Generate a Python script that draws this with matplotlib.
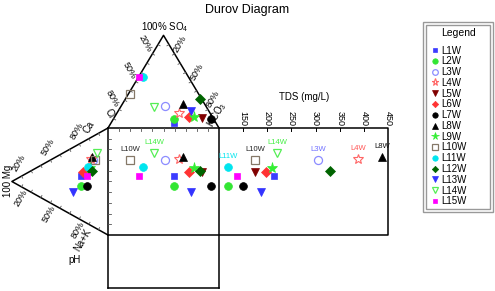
import matplotlib
matplotlib.use('Agg')
import matplotlib.pyplot as plt
import numpy as np
from matplotlib.lines import Line2D
from matplotlib.patches import Rectangle

plt.rcParams['font.family'] = ['Liberation Sans', 'DejaVu Sans']
plt.rcParams['mathtext.fontset'] = 'custom'
plt.rcParams['mathtext.rm'] = 'Liberation Sans'
plt.rcParams['mathtext.it'] = 'Liberation Sans:italic'

# ---------------- data ----------------
samples = ['L1W', 'L2W', 'L3W', 'L4W', 'L5W', 'L6W', 'L7W', 'L8W',
           'L9W', 'L10W', 'L11W', 'L12W', 'L13W', 'L14W', 'L15W']
# anions (% meq)
cl   = [37.8, 35.7, 36.7, 27.9, 9.9, 21.1, 2.3, 19.5, 16.6, 61.8, 41.0, 1.5, 16.0, 47.3, 44.5]
so4  = [5.4, 9.7, 23.8, 16.2, 10.8, 11.9, 9.7, 25.9, 11.9, 36.7, 55.1, 31.3, 18.4, 22.6, 55.1]
hco3 = [56.8, 54.6, 39.5, 55.9, 79.3, 67.0, 88.0, 54.6, 71.5, 1.5, 3.9, 67.2, 65.6, 30.1, 0.4]
# cations (% meq)
ca  = [41.1, 31.8, 62.3, 62.1, 49.0, 45.9, 34.9, 64.6, 53.3, 63.4, 53.2, 51.5, 22.0, 70.9, 44.2]
mg  = [28.1, 28.1, 15.6, 17.7, 19.8, 26.0, 21.8, 16.6, 18.7, 13.5, 20.8, 16.6, 36.4, 11.4, 21.8]
nak = [30.8, 40.1, 22.1, 20.2, 31.2, 28.1, 43.3, 18.8, 28.0, 23.1, 26.0, 31.9, 41.6, 17.7, 34.0]
# total dissolved solids (mg/L)
tds = [214, 119, 305, 388, 175, 197, 150, 438, 210, 175, 119, 330, 187, 220, 137]

tds_ticks = [150, 200, 250, 300, 350, 400, 450]
pct_ticks = ['20%', '50%', '80%']
square_labelled = ['L10W', 'L14W']
tds_labelled = ['L11W', 'L10W', 'L14W', 'L3W', 'L4W', 'L8W']

# ---------------- styles ----------------
style = {
    'L1W':  dict(marker='s', mfc='#3c3cff', mec='#3c3cff', ms=5.0),
    'L2W':  dict(marker='o', mfc='#33e633', mec='#33e633', ms=5.6),
    'L3W':  dict(marker='o', mfc='none', mec='#8c8cff', ms=5.8, mew=0.9),
    'L4W':  dict(marker='*', mfc='none', mec='#ff6666', ms=7.5, mew=0.8),
    'L5W':  dict(marker='v', mfc='#800000', mec='#800000', ms=5.6),
    'L6W':  dict(marker='D', mfc='#ff3333', mec='#ff3333', ms=4.6),
    'L7W':  dict(marker='o', mfc='black', mec='black', ms=5.6),
    'L8W':  dict(marker='^', mfc='black', mec='black', ms=5.6),
    'L9W':  dict(marker='*', mfc='#33ee33', mec='#33ee33', ms=8.0),
    'L10W': dict(marker='s', mfc='none', mec='#857868', ms=5.2, mew=0.9),
    'L11W': dict(marker='o', mfc='#00e5ee', mec='#00e5ee', ms=5.6),
    'L12W': dict(marker='D', mfc='#006400', mec='#006400', ms=4.6),
    'L13W': dict(marker='v', mfc='#3333ff', mec='#3333ff', ms=5.6),
    'L14W': dict(marker='v', mfc='none', mec='#55ee55', ms=6.2, mew=0.9),
    'L15W': dict(marker='s', mfc='#ff00ff', mec='#ff00ff', ms=5.0),
}
label_color = {'L11W': '#00e5ee', 'L10W': '#222222', 'L14W': '#44ee44',
               'L3W': '#7070ff', 'L4W': '#ff5555', 'L8W': '#111111'}

# ---------------- geometry ----------------
W, H = 495, 291
fig = plt.figure(figsize=(W / 100, H / 100), dpi=100)
ax = fig.add_axes([0, 0, 1, 1])
ax.set_xlim(-97.3, 348.65)
ax.set_ylim(-52.34, 219.63)
ax.axis('off')

h = np.sqrt(3) / 2 * 100
apex_top = np.array([50, 100 + h])
bl = np.array([0, 100])
br = np.array([100, 100])
apex_left = np.array([-h, 50])
ca_v = np.array([0, 100])
na_v = np.array([0, 0])

tds_min, tds_max = 100, 450
tds_x0, tds_x1 = 100, 252.3


def tds_x(t):
    return tds_x0 + (t - tds_min) / (tds_max - tds_min) * (tds_x1 - tds_x0)


lw = 1.1
k = 'black'
# triangles
ax.plot([bl[0], apex_top[0], br[0]], [bl[1], apex_top[1], br[1]], color=k, lw=lw)
ax.plot([ca_v[0], apex_left[0], na_v[0]], [ca_v[1], apex_left[1], na_v[1]], color=k, lw=lw)
# central square, TDS panel, pH panel
ax.plot([0, tds_x1, tds_x1, 0], [100, 100, 0, 0], color=k, lw=lw)
ax.plot([0, 0], [100, -49.5], color=k, lw=lw)
ax.plot([100, 100], [100, -49.5], color=k, lw=lw)
ax.plot([0, 100], [-49.5, -49.5], color=k, lw=lw)

# tick marks
tk = 2.2
tcol = '#555555'
for f in np.arange(0.1, 0.95, 0.1):
    p = apex_top + f * (bl - apex_top)
    n = np.array([0.866, -0.5])
    ax.plot([p[0], p[0] + tk * n[0]], [p[1], p[1] + tk * n[1]], color=tcol, lw=0.6)
    p = apex_top + f * (br - apex_top)
    n = np.array([-0.866, -0.5])
    ax.plot([p[0], p[0] + tk * n[0]], [p[1], p[1] + tk * n[1]], color=tcol, lw=0.6)
    p = apex_left + f * (ca_v - apex_left)
    n = np.array([0.5, -0.866])
    ax.plot([p[0], p[0] + tk * n[0]], [p[1], p[1] + tk * n[1]], color=tcol, lw=0.6)
    p = apex_left + f * (na_v - apex_left)
    n = np.array([0.5, 0.866])
    ax.plot([p[0], p[0] + tk * n[0]], [p[1], p[1] + tk * n[1]], color=tcol, lw=0.6)
    ax.plot([f * 100, f * 100], [100, 100 - tk * 1.2], color=tcol, lw=0.6)
    ax.plot([0, tk * 1.2], [f * 100, f * 100], color=tcol, lw=0.6)
for t in tds_ticks:
    if t < tds_max:
        ax.plot([tds_x(t), tds_x(t)], [100, 100 - 2.8], color=k, lw=0.7)
    ax.text(tds_x(t), 108.5, str(t), rotation=-90, ha='center', va='center', fontsize=6.5)

# axis labels
fs = 6.5
for i, f in enumerate([0.2, 0.5, 0.8]):
    p = apex_top + f * (bl - apex_top)
    ax.text(p[0] - 6, p[1] + 10, pct_ticks[i], rotation=-60, ha='center', va='center', fontsize=fs)
    p = apex_top + f * (br - apex_top)
    ax.text(p[0] + 5, p[1] + 9.5, pct_ticks[i], rotation=60, ha='center', va='center', fontsize=fs)
    p = apex_left + f * (ca_v - apex_left)
    ax.text(p[0] - 11, p[1] + 7, pct_ticks[i], rotation=60, ha='center', va='center', fontsize=fs)
    p = apex_left + f * (na_v - apex_left)
    ax.text(p[0] - 9.5, p[1] - 5, pct_ticks[i], rotation=60, ha='center', va='center', fontsize=fs)

ax.text(51.4, 194.0, '100% SO$_4$', ha='center', va='center', fontsize=7)
ax.text(1.5, 113.5, 'Cl', rotation=-60, ha='center', va='center', fontsize=7)
ax.text(98.5, 112.5, 'HCO$_3$', rotation=60, ha='center', va='center', fontsize=7)
ax.text(-17.0, 100.5, 'Ca', rotation=60, ha='center', va='center', fontsize=7)
ax.text(-22.5, -4.5, 'Na+K', rotation=60, ha='center', va='center', fontsize=7)
ax.text(-90.3, 50.5, '100 Mg', rotation=90, ha='center', va='center', fontsize=7)
ax.text(-29.7, -23.4, 'pH', ha='center', va='center', fontsize=7)
ax.text(176.6, 129.0, 'TDS (mg/L)', ha='center', va='center', fontsize=7)
fig.text(0.5, 1 - 10 / H, 'Durov Diagram', ha='center', va='center', fontsize=9)

# ---------------- points ----------------
handles = []
for i, s in enumerate(samples):
    st = style[s]
    kw = dict(linestyle='none', marker=st['marker'], markerfacecolor=st['mfc'],
              markeredgecolor=st['mec'], markersize=st['ms'],
              markeredgewidth=st.get('mew', 0.5), zorder=5)
    a_s, a_h = so4[i] / 100, hco3[i] / 100
    c_ca, c_mg = ca[i] / 100, mg[i] / 100
    xt = 100 * a_h + 50 * a_s
    yt = 100 + h * a_s
    xl = -h * c_mg
    yl = 100 * c_ca + 50 * c_mg
    ax.plot([xt], [yt], **kw)
    ax.plot([xl], [yl], **kw)
    ax.plot([xt], [yl], **kw)
    ax.plot([tds_x(tds[i])], [yl], **kw)
    if s in square_labelled:
        ax.text(xt, yl + 9.8, s, ha='center', va='center', fontsize=5.5,
                color=label_color[s])
    if s in tds_labelled:
        ax.text(tds_x(tds[i]), yl + 9.8, s, ha='center', va='center', fontsize=5.5,
                color=label_color[s])
    hk = dict(kw)
    hk['markersize'] = st['ms'] * 0.7
    hk.pop('zorder')
    handles.append(Line2D([], [], **hk))

# legend: double grey frame drawn in pixel coordinates, entries via legend()
fig.patches.append(Rectangle((423, H - 212), 70, 190, transform=None, fill=False,
                             edgecolor='#999999', lw=1.0))
fig.patches.append(Rectangle((426, H - 209), 64, 184, transform=None, fill=False,
                             edgecolor='#999999', lw=1.0))
fig.text(459 / W, 1 - 33 / H, 'Legend', ha='center', va='center', fontsize=7.5)
leg = fig.legend(handles, samples, loc='upper left',
                 bbox_to_anchor=(432 / W, 1 - 45.5 / H), fontsize=7,
                 frameon=False, handlelength=0.6, handletextpad=0.35,
                 labelspacing=0.08, borderpad=0.0, borderaxespad=0.0)

fig.savefig('out.png', dpi=100)
